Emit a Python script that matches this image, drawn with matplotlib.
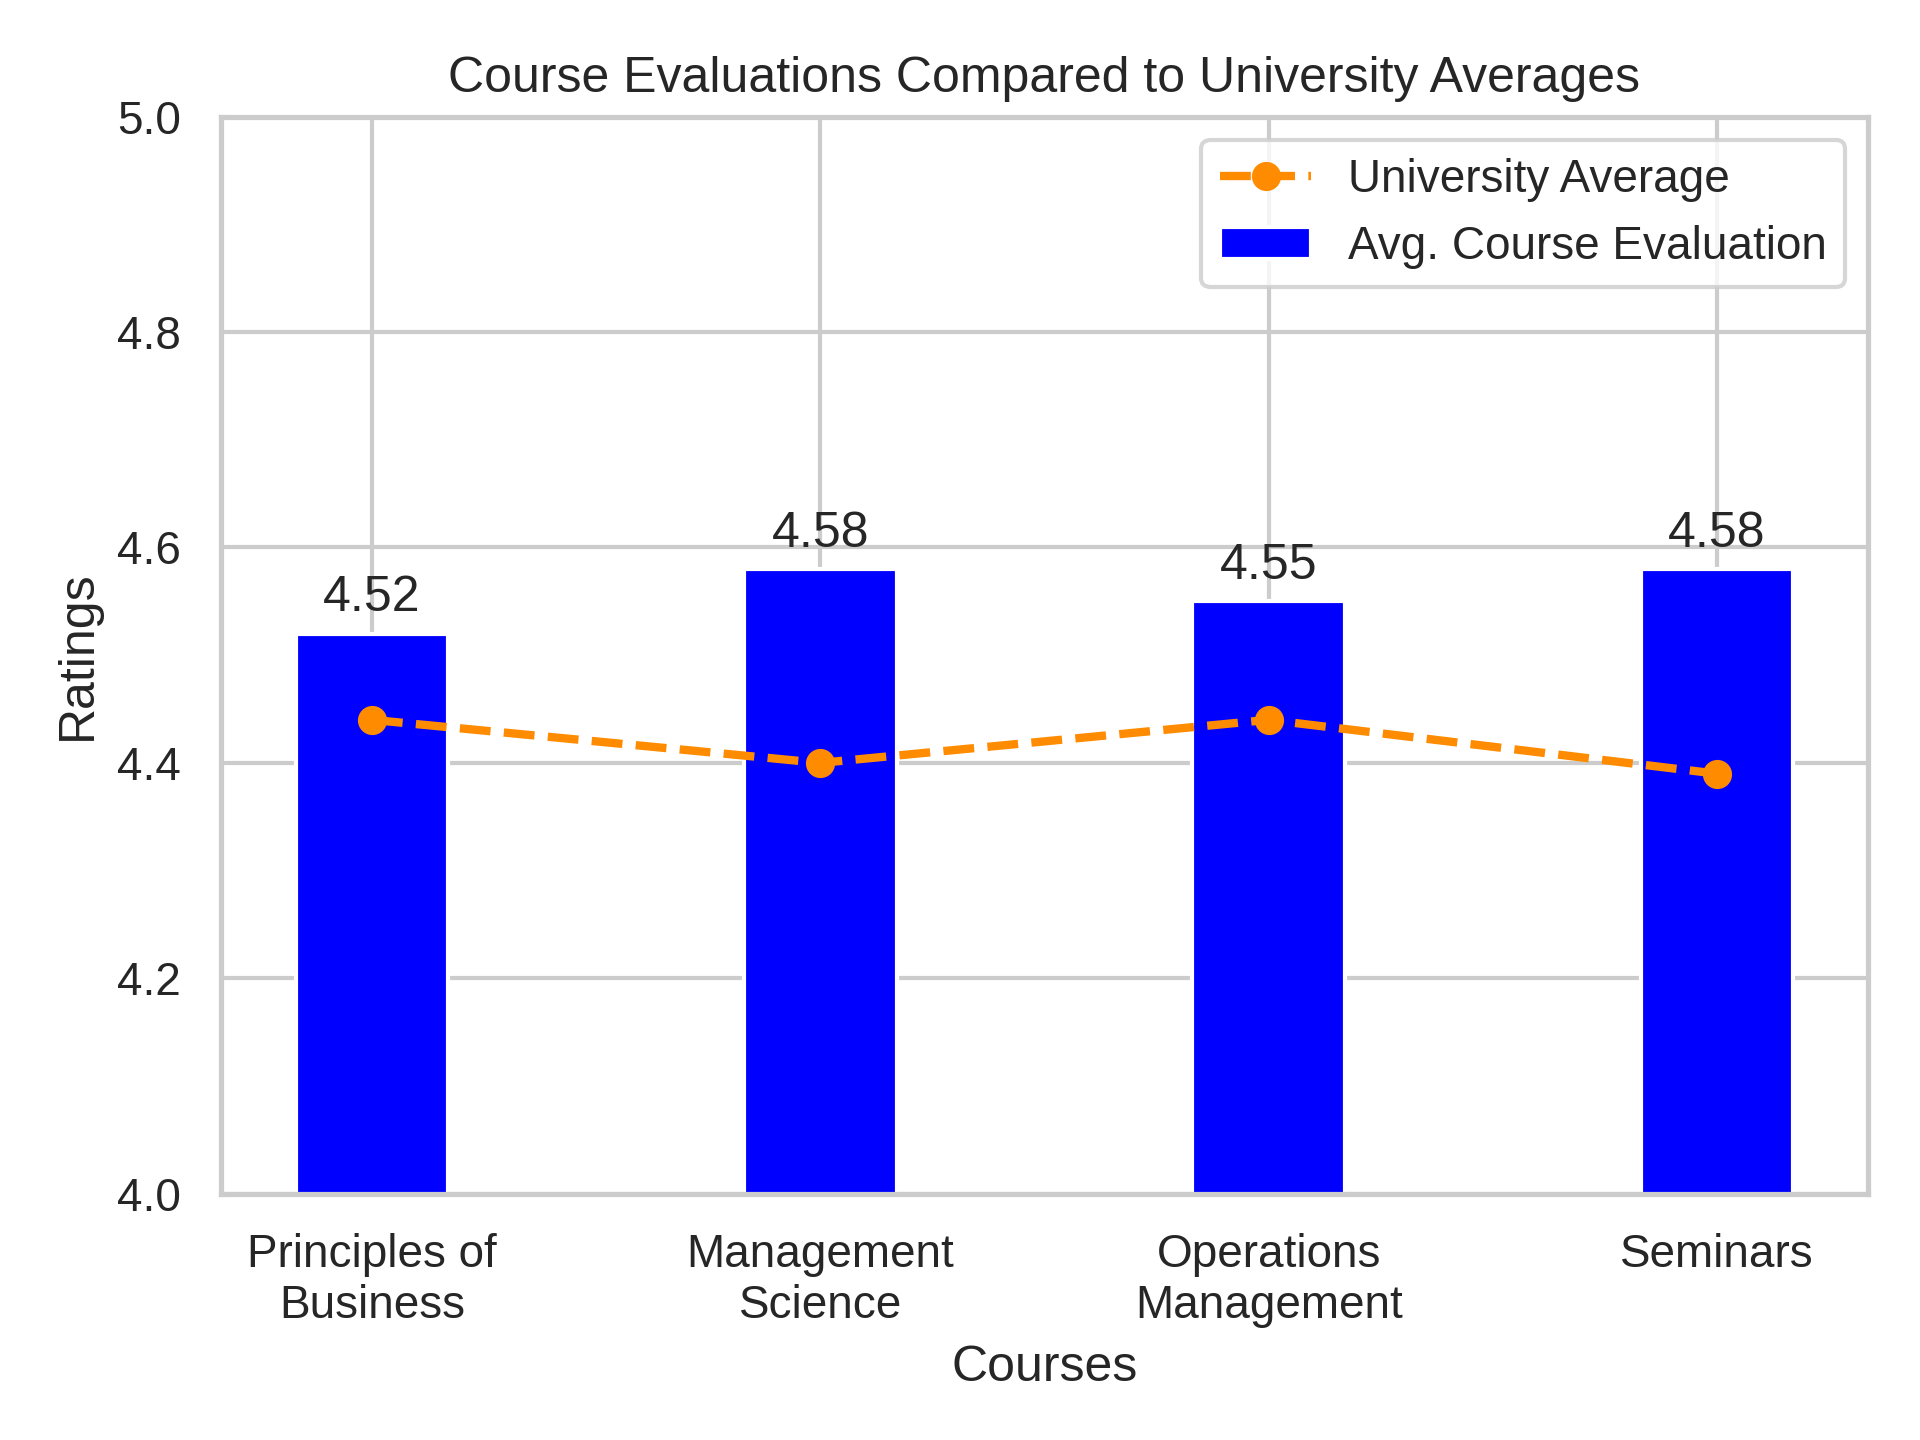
import numpy as np
import matplotlib.pyplot as plt
import seaborn as sns

sns.set_theme(style='whitegrid')
plt.rcParams['font.family'] = ['Liberation Sans', 'DejaVu Sans']

courses = ['Principles of\nBusiness', 'Management\nScience', 'Operations\nManagement', 'Seminars']
course_eval = [4.52, 4.58, 4.55, 4.58]
univ_avg = [4.44, 4.40, 4.44, 4.39]

x = np.arange(len(courses))

fig, ax = plt.subplots(figsize=(6.4, 4.8), dpi=300)
line, = ax.plot(x, univ_avg, color='darkorange', linestyle='--', marker='o',
                linewidth=2, markersize=6, label='University Average', zorder=3)
bars = ax.bar(x, course_eval, width=0.34, color='blue', label='Avg. Course Evaluation', zorder=2)
ax.bar_label(bars, labels=[f'{v:.2f}' for v in course_eval], padding=3, fontsize=12)

ax.set_ylim(4.0, 5.0)
ax.set_xticks(x)
ax.set_xticklabels(courses)
ax.set_xlabel('Courses')
ax.set_ylabel('Ratings')
ax.set_title('Course Evaluations Compared to University Averages')
ax.legend(handles=[line, bars], loc='upper right')

fig.subplots_adjust(left=0.115, right=0.973, top=0.919, bottom=0.171)
plt.savefig('out.png', dpi=300)
